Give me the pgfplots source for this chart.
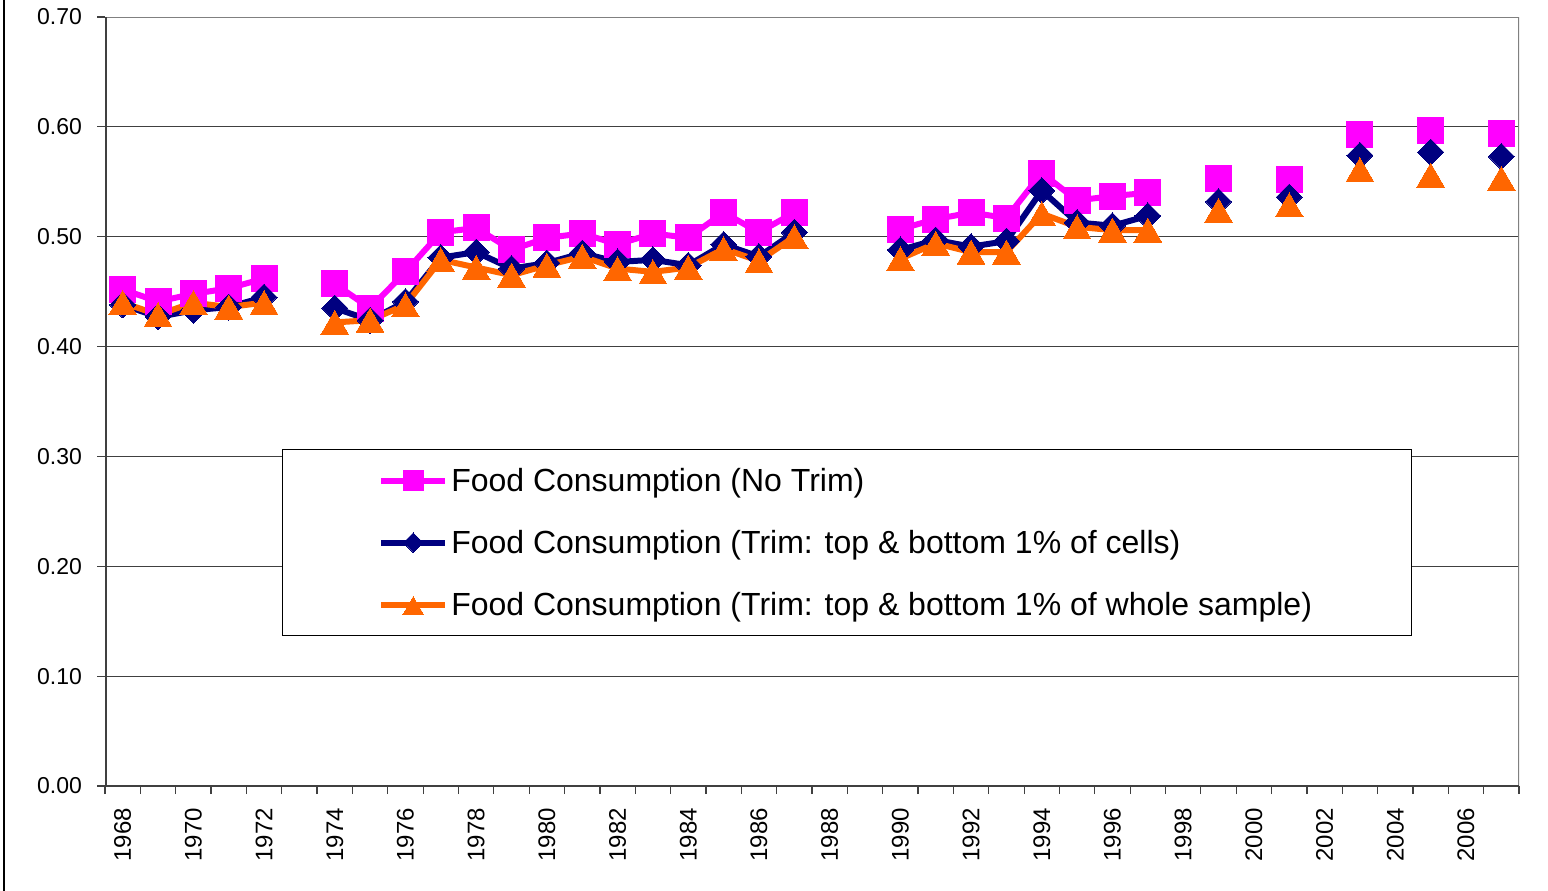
\documentclass[border=0pt]{standalone}
\usepackage{fontspec}
\setmainfont{Liberation Sans}
\usepackage{pgfplots}
\pgfplotsset{compat=1.18}

\definecolor{cpink}{RGB}{255,0,255}
\definecolor{cnavy}{RGB}{0,0,128}
\definecolor{corange}{RGB}{255,102,0}
\definecolor{axisdark}{RGB}{64,64,64}
\definecolor{axisgray}{RGB}{128,128,128}

% year, no trim, trim cells, trim whole sample
\pgfplotstableread{
year  notrim  cells  whole
1968  0.452  0.438  0.440
1969  0.441  0.427  0.429
1970  0.448  0.433  0.440
1971  0.453  0.436  0.436
1972  0.462  0.445  0.440
1973  nan    nan    nan
1974  0.457  0.435  0.422
1975  0.435  0.424  0.424
1976  0.468  0.441  0.438
1977  0.504  0.481  0.479
1978  0.508  0.486  0.472
1979  0.488  0.471  0.465
1980  0.499  0.476  0.474
1981  0.503  0.485  0.482
1982  0.493  0.477  0.471
1983  0.503  0.479  0.468
1984  0.499  0.474  0.472
1985  0.522  0.493  0.489
1986  0.504  0.482  0.478
1987  0.522  0.504  0.500
1988  nan    nan    nan
1989  nan    nan    nan
1990  0.507  0.488  0.480
1991  0.516  0.497  0.494
1992  0.522  0.491  0.486
1993  0.517  0.496  0.486
1994  0.558  0.542  0.521
1995  0.533  0.513  0.509
1996  0.537  0.510  0.506
1997  0.540  0.519  0.506
1998  nan    nan    nan
1999  0.553  0.532  0.524
2000  nan    nan    nan
2001  0.552  0.536  0.529
2002  nan    nan    nan
2003  0.593  0.574  0.561
2004  nan    nan    nan
2005  0.597  0.577  0.556
2006  nan    nan    nan
2007  0.594  0.573  0.553
}\foodtable

\begin{document}
\begin{tikzpicture}
\begin{axis}[
    at={(0,0)}, anchor=south west,
    scale only axis,
    width=707pt, height=384.5pt,
    xmin=1967.5, xmax=2007.5,
    ymin=0, ymax=0.7,
    axis line style={draw=none},
    unbounded coords=jump,
    font=\fontsize{11.5}{13}\selectfont,
    /pgf/number format/assume math mode=true,
    xtick pos=bottom, ytick pos=left,
    xtick={1968,1970,...,2006},
    major x tick style={draw=none},
    minor xtick={1967.5,1968.5,...,2007.5},
    minor x tick style={axisdark, line width=0.6pt},
    minor tick length=4pt,
    xticklabel style={rotate=90, anchor=east, /pgf/number format/1000 sep={},
        font=\fontsize{12}{13}\selectfont},
    xticklabel shift=3.5pt,
    ytick={0,0.1,...,0.7},
    y tick style={axisdark, line width=0.6pt},
    major tick length=4pt,
    tick align=outside,
    yticklabel style={/pgf/number format/.cd, fixed, precision=2, zerofill},
    yticklabel shift=4pt,
    ymajorgrids=true,
    grid style={axisdark, line width=0.5pt},
    legend style={
        at={(rel axis cs:0.125,0.438)}, anchor=north west,
        draw=black, line width=0.5pt, fill=white,
        font=\fontsize{16}{18}\selectfont,
        inner xsep=48pt, inner ysep=7.5pt,
        row sep=15pt,
        nodes={inner xsep=1.5pt, inner ysep=0pt, text height=13.5pt, text depth=2.5pt},
    },
    legend cell align=left,
    legend image code/.code={
        \draw[mark repeat=2, mark phase=2, #1, every mark/.append style={scale=0.75}]
            plot coordinates {(0pt,0pt) (16pt,0pt) (32pt,0pt)};
    },
]

\addplot[cpink, line width=3pt, mark=square*, mark size=6.5pt,
    mark options={solid, line width=0pt}]
    table[x=year, y=notrim] {\foodtable};
\addlegendentry{Food Consumption (No Trim)}

\addplot[cnavy, line width=3pt, mark=square*, mark size=4.6pt,
    mark options={solid, rotate=45, line width=0pt}]
    table[x=year, y=cells] {\foodtable};
\addlegendentry{Food Consumption (Trim: top \& bottom 1\% of cells)}

\addplot[corange, line width=3pt, mark=triangle*, mark size=8pt,
    mark options={solid, yshift=-2pt, line width=0pt}]
    table[x=year, y=whole] {\foodtable};
\addlegendentry{Food Consumption (Trim: top \& bottom 1\% of whole sample)}

% frame: light top/right, dark left/bottom
\draw[axisgray, line width=1pt] (rel axis cs:0,1) -- (rel axis cs:1,1) -- (rel axis cs:1,0);
\draw[axisdark, line width=1.5pt] (rel axis cs:0,1) -- (rel axis cs:0,0) -- (rel axis cs:1,0);
\end{axis}
\pgfresetboundingbox
\useasboundingbox (-52.5pt,-52pt) rectangle (721.5pt,393pt);
\draw[black, line width=1pt] (-50.5pt,-53pt) -- (-50.5pt,394pt);
\end{tikzpicture}
\end{document}
